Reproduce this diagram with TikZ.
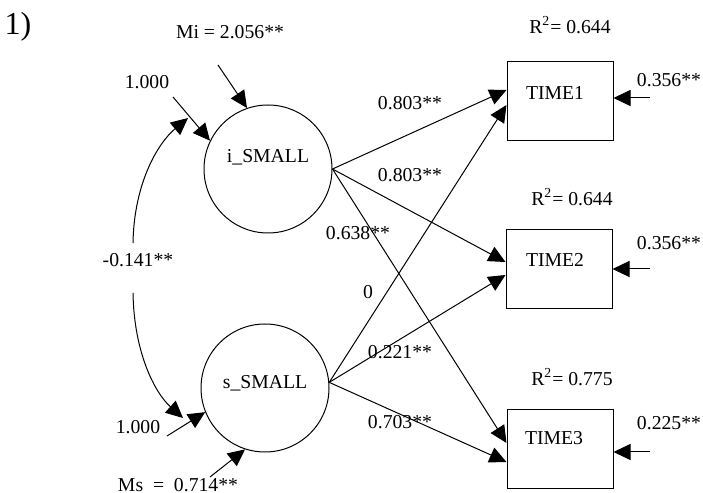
\documentclass[tikz,border=0pt]{standalone}
\usepackage{fontspec}
\setmainfont{Liberation Serif}
\usetikzlibrary{arrows.meta,calc}

\begin{document}
\begin{tikzpicture}[x=0.5pt,y=0.5pt,
  every node/.style={font=\fontsize{9.85}{11}\selectfont,inner sep=1pt},
  latent/.style={draw,circle,minimum size=64pt,inner sep=0pt,line width=0.5pt},
  observed/.style={draw,rectangle,minimum width=53pt,minimum height=39.5pt,inner sep=0pt,line width=0.5pt},
  arr/.style={-{Triangle[length=8.5pt,width=8pt]},line width=0.5pt}]

\useasboundingbox (0,0) rectangle (703,493);

\node[font=\fontsize{16}{18}\selectfont] (num) at (18,466) {1)};

% growth factors
\node[latent] (i) at (268,324) {};
\node (ilab) at (268,336) {i\_SMALL};
\node[latent] (s) at (265,105) {};
\node (slab) at (265,110) {s\_SMALL};

% measured occasions
\node[observed] (t1) at (560,391.5) {};
\node (t1lab) at (555,400) {TIME1};
\node[observed] (t2) at (559,223.5) {};
\node (t2lab) at (555,233) {TIME2};
\node[observed] (t3) at (560,44) {};
\node (t3lab) at (554,55) {TIME3};

\node (r1) at (570,468) {R\textsuperscript{2}= 0.644};
\node (r2) at (572,296) {R\textsuperscript{2}= 0.644};
\node (r3) at (572,116) {R\textsuperscript{2}= 0.775};

% means and variances
\node (milab) at (230,461) {Mi = 2.056**};
\coordinate (mi) at (218,428);
\draw[arr] (mi) -- (i.109);
\node (vilab) at (147,411) {1.000};
\coordinate (vi) at (173,396);
\draw[arr] (vi) -- (i.154);

\node (mslab) at (178,8) {Ms\ \ =\ \ 0.714**};
\coordinate (ms) at (210,16);
\draw[arr] (ms) -- (s.252);
\node (vslab) at (138,66) {1.000};
\coordinate (vs) at (167,57);
\draw[arr] (vs) -- (s.202);

% covariance
\node (cov) at (138,233) {-0.141**};
\coordinate (ct) at (133,250);
\coordinate (cb) at (133,200);
\coordinate (ci) at (188,375);
\coordinate (cs) at (183,75);
\draw[arr] (ct) .. controls (134,310) and (158,350) .. (ci);
\draw[arr] (cb) .. controls (134,140) and (155,100) .. (cs);

% loadings
\draw[arr] (i.east) -- ($(t1.west)+(0,11.5)$);
\draw[arr] (i.east) -- ($(t2.west)+(0,7.5)$);
\draw[arr] (i.east) -- ($(t3.west)+(0,6)$);
\draw[arr] (s.5) -- ($(t1.west)+(0,-3.5)$);
\draw[arr] (s.5) -- ($(t2.west)+(0,-5.5)$);
\draw[arr] (s.5) -- ($(t3.west)+(0,-13)$);

\node (l1) at (410,390) {0.803**};
\node (l2) at (410,318) {0.803**};
\node (l3) at (358,260) {0.638**};
\node (l4) at (368,201) {0};
\node (l5) at (400,141) {0.221**};
\node (l6) at (400,71) {0.703**};

% residuals
\coordinate (e1) at (650,395);
\coordinate (e2) at (650,224);
\coordinate (e3) at (650,41);
\draw[arr] (e1) -- (e1 -| t1.east);
\draw[arr] (e2) -- (e2 -| t2.east);
\draw[arr] (e3) -- (e3 -| t3.east);
\node (el1) at (669,413) {0.356**};
\node (el2) at (669,250) {0.356**};
\node (el3) at (669,70) {0.225**};

\end{tikzpicture}
\end{document}
